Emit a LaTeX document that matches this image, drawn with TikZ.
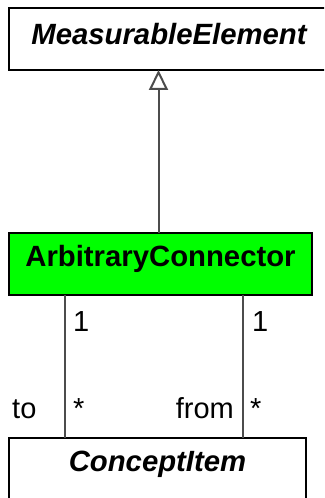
\documentclass[tikz,border=0pt]{standalone}
\usepackage{fontspec}
\setmainfont{Liberation Sans}
\usetikzlibrary{arrows.meta}

\begin{document}
\begin{tikzpicture}[
    x=1bp, y=-1bp,
    classbox/.style={rectangle, draw=black, line width=2bp, inner sep=0pt, outer sep=0pt, minimum height=62bp, text height=20bp, font=\bfseries\itshape\fontsize{29.3bp}{35bp}\selectfont},
    concrete/.style={classbox, fill=green, font=\bfseries\fontsize{29.3bp}{35bp}\selectfont},
    mult/.style={inner sep=0pt, font=\fontsize{29bp}{35bp}\selectfont},
    assoc/.style={draw=black!70, line width=2bp},
    gen/.style={draw=black!70, line width=2bp, -{Triangle[open, length=20bp, width=19bp]}}
]
\clip (0,0) rectangle (324,498);

\node[classbox, minimum width=320bp, text depth=8bp] (meas) at (169,39) {MeasurableElement};
\node[concrete, minimum width=303bp, text depth=16bp] (arb) at (160.5,264) {ArbitraryConnector};
\node[classbox, minimum width=297bp, minimum height=76bp, text depth=30bp] (item) at (157.5,476) {ConceptItem};

% generalization
\coordinate (gensrc) at ([xshift=-2bp]arb.north);
\draw[gen] (gensrc) -- (gensrc |- meas.south);

% associations
\coordinate (tosrc) at ([xshift=56bp]arb.south west);
\coordinate (totgt) at (tosrc |- item.north);
\coordinate (fromsrc) at ([xshift=234bp]arb.south west);
\coordinate (fromtgt) at (fromsrc |- item.north);
\draw[assoc] (tosrc) -- (totgt);
\draw[assoc] (fromsrc) -- (fromtgt);

\node[mult, anchor=base west] (tosrcmult) at ([shift={(8,36)}]tosrc) {1};
\node[mult, anchor=base west] (totgtmult) at ([shift={(8,-20)}]totgt) {*};
\node[mult, anchor=base west] (torole) at ([shift={(-53,-20)}]totgt) {to};
\node[mult, anchor=base west] (fromsrcmult) at ([shift={(9,36)}]fromsrc) {1};
\node[mult, anchor=base west] (fromtgtmult) at ([shift={(7,-20)}]fromtgt) {*};
\node[mult, anchor=base east] (fromrole) at ([shift={(-9,-20)}]fromtgt) {from};
\end{tikzpicture}
\end{document}
